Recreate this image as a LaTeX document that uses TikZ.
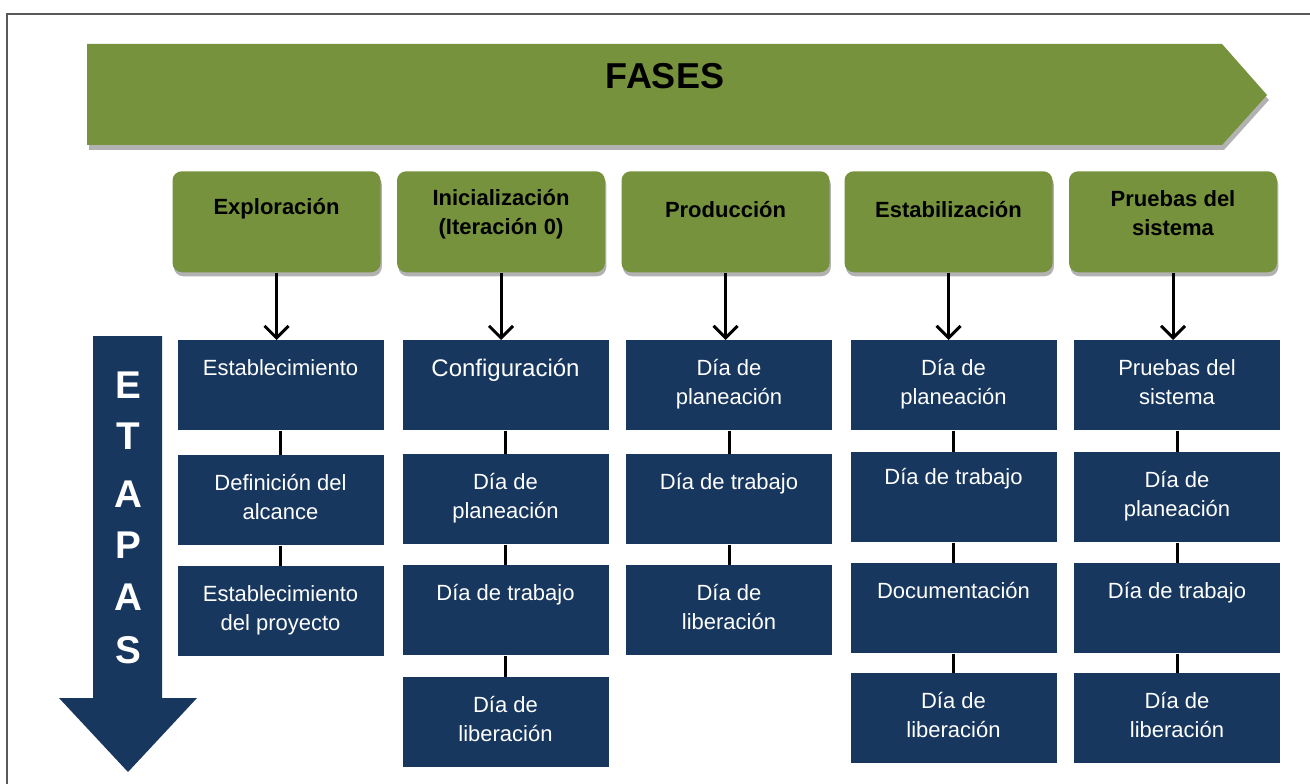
\documentclass[tikz,border=0pt]{standalone}
\usepackage{fontspec}
\setmainfont{Liberation Sans}
\usetikzlibrary{arrows.meta,shadows}
\definecolor{fgreen}{HTML}{76923C}
\definecolor{fblue}{HTML}{17375E}
\begin{document}
\begin{tikzpicture}[x=0.75pt,y=-0.75pt,
  bbox/.style={fill=fblue, minimum width=154.5pt, minimum height=67.5pt, inner sep=0pt, anchor=north},
  btext/.style={anchor=north, yshift=-14.25pt, inner sep=0pt, text=white, align=center, font=\fontsize{16.5}{21.75}\selectfont},
  hbox/.style={fill=fgreen, rounded corners=7pt, minimum width=156pt, minimum height=75.75pt, inner sep=0pt, anchor=north, drop shadow={shadow xshift=1pt, shadow yshift=-3pt, fill=black, opacity=0.3}},
  htext/.style={anchor=center, inner sep=0pt, align=center, font=\bfseries\fontsize{16.5}{21.75}\selectfont},
  conn/.style={line width=2.25pt, black},
  arr/.style={line width=2.25pt, black, -{Straight Barb[length=9pt,width=18pt]}},
  letter/.style={text=white, font=\bfseries\fontsize{29}{29}\selectfont, inner sep=0pt}
]
\useasboundingbox (0,0) rectangle (1310,784);
% frame
\draw[line width=1.1pt, black!65] (7,790) -- (7,14) -- (1320,14);
% FASES arrow
\fill[black, opacity=0.3] (89,49) -- (1224,49) -- (1269,100) -- (1224,150) -- (89,150) -- cycle;
\fill[fgreen] (87,44) -- (1222,44) -- (1267,95) -- (1222,145) -- (87,145) -- cycle;
\node[font=\bfseries\fontsize{27}{27}\selectfont, inner sep=0pt] (fases) at (665,76) {FASES};
% ETAPAS arrow
\fill[fblue] (93,336) -- (162,336) -- (162,698) -- (197,698) -- (128,772) -- (59,698) -- (93,698) -- cycle;
\node[letter] (l1) at (128,385) {E};
\node[letter] (l2) at (128,436) {T};
\node[letter] (l3) at (128,494) {A};
\node[letter] (l4) at (128,545) {P};
\node[letter] (l5) at (128,597) {A};
\node[letter] (l6) at (128,650) {S};
% headers
\node[hbox, label={[htext, yshift=9.75pt]center:Exploración}] (h1) at (276.5,171) {};
\node[hbox, label={[htext, yshift=6pt]center:{Inicialización\\(Iteración 0)}}] (h2) at (501,171) {};
\node[hbox, label={[htext, yshift=9pt]center:Producción}] (h3) at (725.5,171) {};
\node[hbox, label={[htext, yshift=9pt]center:Estabilización}] (h4) at (948.5,171) {};
\node[hbox, label={[htext, yshift=6.75pt]center:{Pruebas del\\sistema}}] (h5) at (1173,171) {};
% column 1
\node[bbox, label={[btext]north:Establecimiento}] (c11) at (280.5,340) {};
\node[bbox, label={[btext]north:{Definición del\\alcance}}] (c12) at (280.5,455) {};
\node[bbox, label={[btext]north:{Establecimiento\\del proyecto}}] (c13) at (280.5,566) {};
% column 2
\node[bbox, label={[btext, font=\fontsize{18}{21.75}\selectfont]north:Configuración}] (c21) at (505.5,340) {};
\node[bbox, label={[btext]north:{Día de\\planeación}}] (c22) at (505.5,454) {};
\node[bbox, label={[btext]north:Día de trabajo}] (c23) at (505.5,565) {};
\node[bbox, label={[btext]north:{Día de\\liberación}}] (c24) at (505.5,677) {};
% column 3
\node[bbox, label={[btext]north:{Día de\\planeación}}] (c31) at (729,340) {};
\node[bbox, label={[btext]north:Día de trabajo}] (c32) at (729,454) {};
\node[bbox, label={[btext]north:{Día de\\liberación}}] (c33) at (729,565) {};
% column 4
\node[bbox, label={[btext]north:{Día de\\planeación}}] (c41) at (953.5,340) {};
\node[bbox, label={[btext, yshift=2pt]north:Día de trabajo}] (c42) at (953.5,452) {};
\node[bbox, label={[btext]north:Documentación}] (c43) at (953.5,563) {};
\node[bbox, label={[btext]north:{Día de\\liberación}}] (c44) at (953.5,673) {};
% column 5
\node[bbox, label={[btext]north:{Pruebas del\\sistema}}] (c51) at (1177,340) {};
\node[bbox, label={[btext]north:{Día de\\planeación}}] (c52) at (1177,452) {};
\node[bbox, label={[btext]north:Día de trabajo}] (c53) at (1177,563) {};
\node[bbox, label={[btext]north:{Día de\\liberación}}] (c54) at (1177,673) {};
% arrows
\draw[arr] (h1.south) -- (h1.south |- c11.north);
\draw[arr] (h2.south) -- (h2.south |- c21.north);
\draw[arr] (h3.south) -- (h3.south |- c31.north);
\draw[arr] (h4.south) -- (h4.south |- c41.north);
\draw[arr] (h5.south) -- (h5.south |- c51.north);
% connectors
\draw[conn] (c11) -- (c12);
\draw[conn] (c12) -- (c13);
\draw[conn] (c21) -- (c22);
\draw[conn] (c22) -- (c23);
\draw[conn] (c23) -- (c24);
\draw[conn] (c31) -- (c32);
\draw[conn] (c32) -- (c33);
\draw[conn] (c41) -- (c42);
\draw[conn] (c42) -- (c43);
\draw[conn] (c43) -- (c44);
\draw[conn] (c51) -- (c52);
\draw[conn] (c52) -- (c53);
\draw[conn] (c53) -- (c54);
\end{tikzpicture}
\end{document}
